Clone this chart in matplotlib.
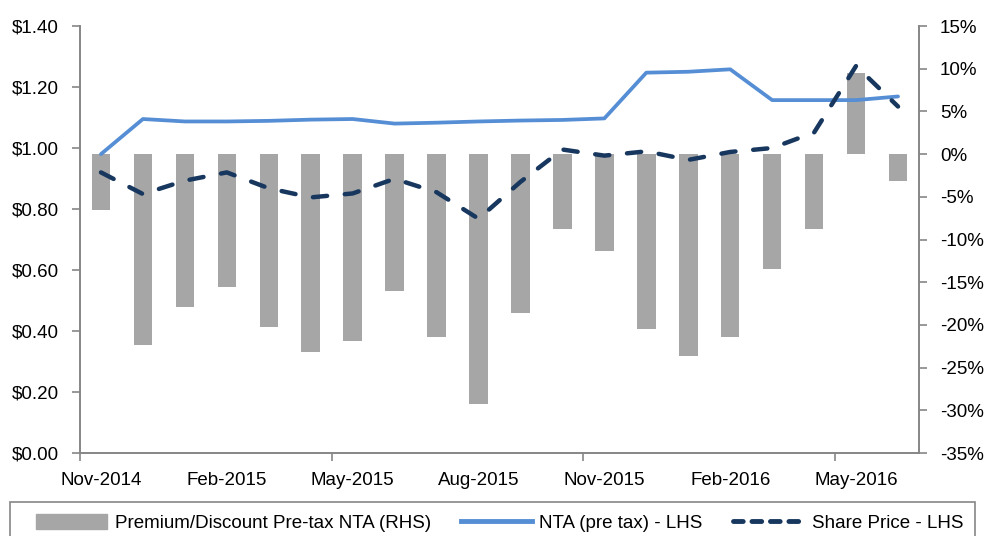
import matplotlib
matplotlib.use("Agg")
import matplotlib.pyplot as plt
from matplotlib.ticker import FuncFormatter, FixedLocator
from matplotlib.patches import Rectangle
from matplotlib.lines import Line2D

# donnees
mois = ["Nov-2014", "Dec-2014", "Jan-2015", "Feb-2015", "Mar-2015", "Apr-2015",
        "May-2015", "Jun-2015", "Jul-2015", "Aug-2015", "Sep-2015", "Oct-2015",
        "Nov-2015", "Dec-2015", "Jan-2016", "Feb-2016", "Mar-2016", "Apr-2016",
        "May-2016", "Jun-2016"]
prime_decote = [-6.5, -22.4, -17.9, -15.6, -20.3, -23.2, -21.9, -16.0, -21.4, -29.3,
                -18.6, -8.8, -11.3, -20.5, -23.6, -21.4, -13.5, -8.8, 9.5, -3.1]
nta = [0.980, 1.095, 1.087, 1.087, 1.089, 1.093, 1.095, 1.080, 1.083, 1.087,
       1.090, 1.092, 1.097, 1.247, 1.250, 1.258, 1.157, 1.157, 1.157, 1.169]
cours = [0.920, 0.849, 0.893, 0.920, 0.868, 0.838, 0.851, 0.899, 0.855, 0.768,
         0.889, 0.995, 0.975, 0.989, 0.961, 0.987, 1.000, 1.051, 1.269, 1.136]

labels_legende = ["Premium/Discount Pre-tax NTA (RHS)", "NTA (pre tax) - LHS", "Share Price - LHS"]

plt.rcParams['font.family'] = ['Liberation Sans', 'DejaVu Sans']
plt.rcParams['font.size'] = 13.5

gris = "#868686"
x = list(range(len(mois)))

fig = plt.figure(figsize=(9.85, 5.36), dpi=100)
ax = fig.add_axes([80 / 985, 1 - 453 / 536, 839 / 985, 427 / 536])
ax2 = ax.twinx()

# barres sur l'axe de droite
ax2.bar(x, prime_decote, width=0.44, color="#A6A6A6", zorder=2)
ax2.set_ylim(-35, 15)
ax2.set_yticks(range(-35, 16, 5))
ax2.yaxis.set_major_formatter(FuncFormatter(lambda v, p: f"{v:.0f}%"))

# lignes sur l'axe de gauche, au dessus des barres
ax.set_zorder(ax2.get_zorder() + 1)
ax.patch.set_visible(False)
ax.plot(x, nta, color="#558ED5", lw=2.7, solid_capstyle="round", solid_joinstyle="round")
ax.plot(x, cours, color="#17375E", lw=3.2, linestyle=(0, (3.2, 4.0)),
        dash_capstyle="round")
ax.set_ylim(0, 1.4)
ax.set_yticks([i * 0.2 for i in range(8)])
ax.yaxis.set_major_formatter(FuncFormatter(lambda v, p: f"${v:.2f}"))
ax.set_xlim(-0.5, len(mois) - 0.5)

# axe x : libelles tous les 3 mois, graduations tous les 6 mois
ax.xaxis.set_major_locator(FixedLocator(x[::3]))
ax.set_xticklabels(mois[::3])
ax.xaxis.set_minor_locator(FixedLocator([-0.5, 5.5, 11.5, 17.5]))
ax.tick_params(axis="x", which="major", length=0, pad=14)
ax.tick_params(axis="x", which="minor", length=6, color=gris, width=1.2, direction="out")
ax.tick_params(axis="y", length=6, color=gris, width=1.2, pad=9)
ax2.tick_params(axis="y", length=6, color=gris, width=1.2, pad=9)

for a in (ax, ax2):
    a.spines["top"].set_visible(False)
    for s in ("left", "right", "bottom"):
        a.spines[s].set_color(gris)
        a.spines[s].set_linewidth(1.2)

# legende en bas
poignees = [Rectangle((0, 0), 1, 1, color="#A6A6A6"),
            Line2D([], [], color="#558ED5", lw=3.5),
            Line2D([], [], color="#17375E", lw=3.5, linestyle=(0, (2.0, 1.8)), dash_capstyle="round")]
fig.legend(poignees, labels_legende, loc="center", bbox_to_anchor=(0.507, 1 - 523 / 536),
           ncol=3, frameon=False, handlelength=3.8, handletextpad=0.4, columnspacing=1.6,
           handleheight=0.8)
cadre = Rectangle((10 / 985, -0.05), 965 / 985, 0.05 + 34 / 536, transform=fig.transFigure,
                  fill=False, edgecolor=gris, lw=1.2, clip_on=False)
fig.patches.append(cadre)

fig.savefig("out.png", dpi=100)
